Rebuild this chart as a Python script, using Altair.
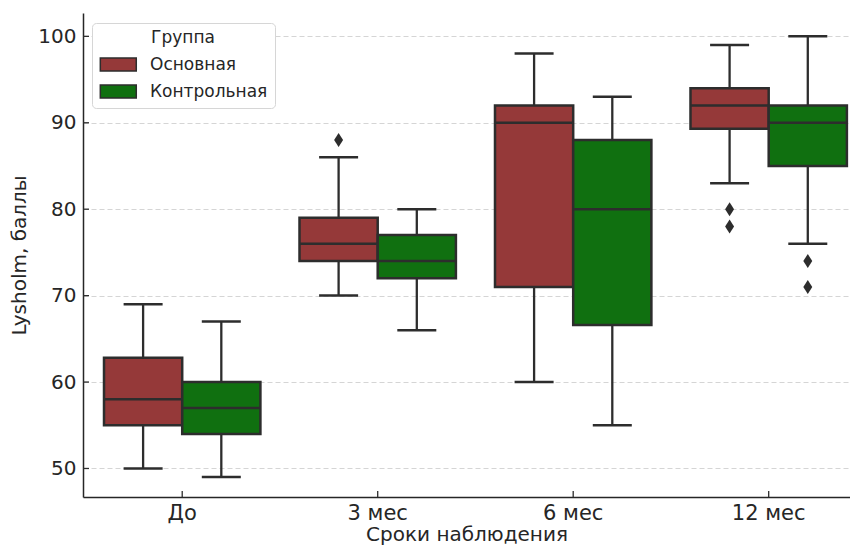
import altair as alt
import pandas as pd

periods = ["До", "3 мес", "6 мес", "12 мес"]
groups = ["Основная", "Контрольная"]

# box statistics per period, per group
osn_lo = [50, 70, 60, 83]
osn_q1 = [55, 74, 71, 89.3]
osn_med = [58, 76, 90, 92]
osn_q3 = [62.8, 79, 92, 94]
osn_hi = [69, 86, 98, 99]

ctl_lo = [49, 66, 55, 76]
ctl_q1 = [54, 72, 66.6, 85]
ctl_med = [57, 74, 80, 90]
ctl_q3 = [60, 77, 88, 92]
ctl_hi = [67, 80, 93, 100]

out_period = ["3 мес", "12 мес", "12 мес", "12 мес", "12 мес"]
out_group = ["Основная", "Основная", "Основная", "Контрольная", "Контрольная"]
out_value = [88, 80, 78, 74, 71]

y_ticks = [50, 60, 70, 80, 90, 100]

rows = []
for g, lo, q1, med, q3, hi in [
    ("Основная", osn_lo, osn_q1, osn_med, osn_q3, osn_hi),
    ("Контрольная", ctl_lo, ctl_q1, ctl_med, ctl_q3, ctl_hi),
]:
    for i, p in enumerate(periods):
        rows.append(dict(period=p, group=g, lo=lo[i], q1=q1[i], med=med[i], q3=q3[i], hi=hi[i]))
stats = pd.DataFrame(rows)
outl = pd.DataFrame(dict(period=out_period, group=out_group, v=out_value))
yt = pd.DataFrame(dict(v=y_ticks))
xt = pd.DataFrame(dict(period=periods))

W, H = 767, 484
EDGE = "#2d2d2d"
FONT = "DejaVu Sans"

xscale = alt.Scale(domain=periods, paddingInner=0.2, paddingOuter=0.0617, align=0.871)
yscale = alt.Scale(domain=[46.7, 102.7], nice=False, zero=False)
X = alt.X("period:N", sort=periods, scale=xscale,
          axis=alt.Axis(title="Сроки наблюдения", labelAngle=0, labelAlign="center",
                        labelBaseline="top", ticks=False, labelFontSize=21,
                        labelPadding=5, titlePadding=1))
Xn = alt.X("period:N", sort=periods, scale=xscale)
XO = alt.XOffset("group:N", sort=groups, scale=alt.Scale(domain=groups, paddingInner=0, paddingOuter=0))
color = alt.Color("group:N", sort=groups,
                  scale=alt.Scale(domain=groups, range=["#953939", "#107010"]),
                  legend=alt.Legend(title="Группа"))

base = alt.Chart(stats)

whisk_lo = base.mark_rule(color=EDGE, strokeWidth=2.3).encode(
    x=Xn, xOffset=XO,
    y=alt.Y("lo:Q", scale=yscale,
            axis=alt.Axis(title="Lysholm, баллы", values=y_ticks, ticks=False,
                          labelPadding=7, titlePadding=8)),
    y2="q1:Q")
whisk_hi = base.mark_rule(color=EDGE, strokeWidth=2.3).encode(
    x=Xn, xOffset=XO, y=alt.Y("q3:Q", scale=yscale), y2="hi:Q")
boxes = base.mark_bar(stroke=EDGE, strokeWidth=2.5, opacity=1).encode(
    x=X, xOffset=XO, y=alt.Y("q1:Q", scale=yscale), y2="q3:Q", color=color)
medians = base.mark_tick(color=EDGE, thickness=2.5, size=78, opacity=1).encode(
    x=Xn, xOffset=XO, y=alt.Y("med:Q", scale=yscale))
cap_lo = base.mark_tick(color=EDGE, thickness=2.5, size=39, opacity=1).encode(
    x=Xn, xOffset=XO, y=alt.Y("lo:Q", scale=yscale))
cap_hi = base.mark_tick(color=EDGE, thickness=2.5, size=39, opacity=1).encode(
    x=Xn, xOffset=XO, y=alt.Y("hi:Q", scale=yscale))
outliers = alt.Chart(outl).mark_point(
    shape="M0,-1L0.64,0L0,1L-0.64,0Z", filled=True, size=196, color=EDGE, opacity=1
).encode(x=Xn, xOffset=XO, y=alt.Y("v:Q", scale=yscale))

ytick_marks = alt.Chart(yt).mark_rule(color=EDGE, strokeWidth=1.3).encode(
    y=alt.Y("v:Q", scale=yscale), x=alt.value(0), x2=alt.value(6))
xtick_marks = alt.Chart(xt).mark_rule(color=EDGE, strokeWidth=1.3).encode(
    x=Xn, y=alt.value(H), y2=alt.value(H - 6))

chart = alt.layer(
    whisk_lo, whisk_hi, boxes, medians, cap_lo, cap_hi, outliers, ytick_marks, xtick_marks
).properties(
    width=W, height=H,
    autosize=alt.AutoSizeParams(type="none"),
    padding={"left": 75, "top": 5, "right": 0, "bottom": 49},
).configure_view(stroke=None).configure_axis(
    labelFont=FONT, titleFont=FONT, labelFontSize=20, titleFontSize=20,
    labelColor="#262626", titleColor="#262626", titleFontWeight="normal",
    domainColor="#262626", domainWidth=1.5,
    grid=False,
).configure_axisY(
    grid=True, gridColor="#d0d0d0", gridDash=[5, 3], gridWidth=0.9,
).configure_axisX(
    domain=True,
).configure_legend(
    orient="none", legendX=9, legendY=10,
    titleFont=FONT, labelFont=FONT, titleFontSize=17, labelFontSize=17,
    titleFontWeight="normal", titleColor="#262626", labelColor="#262626",
    titleAnchor="middle", titlePadding=9,
    symbolType="M-1,-0.9H4V0.9H-1Z", symbolSize=207,
    symbolStrokeColor=EDGE, symbolStrokeWidth=1.5, symbolOpacity=1,
    labelOffset=34, rowPadding=8,
    padding=7, strokeColor="#d6d6d6", fillColor="white", cornerRadius=4,
)

chart.save("out.html", embed_options={"renderer": "svg", "actions": False})
